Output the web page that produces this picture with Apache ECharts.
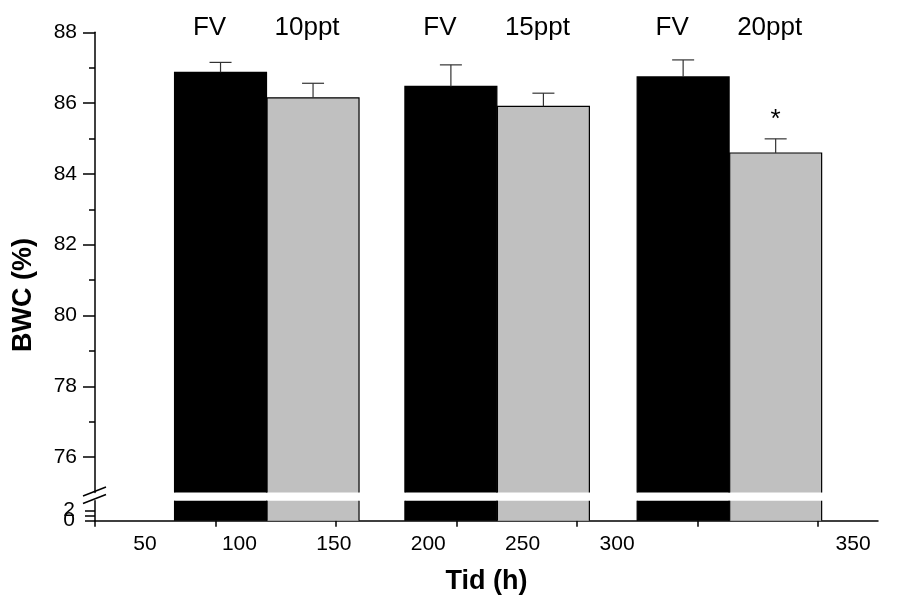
<!DOCTYPE html>
<html>
<head>
<meta charset="utf-8">
<script src="https://cdn.jsdelivr.net/npm/echarts@6/dist/echarts.min.js"></script>
<style>html,body{margin:0;padding:0;background:#fff}#c{width:898px;height:600px}</style>
</head>
<body>
<div id="c"></div>
<script>
// ---- data ----
const groups = ['10ppt', '15ppt', '20ppt'];
const controlLabel = 'FV';
const fvTime = [90, 212, 335];
const saltTime = [139, 261, 384];       // h
const fvBWC = [86.87, 86.47, 86.74];    // %
const fvSE = [0.28, 0.61, 0.48];
const saltBWC = [86.15, 85.91, 84.59];  // %
const saltSE = [0.41, 0.37, 0.40];
const significance = ['', '', '*'];
const xTickLabels = ['50', '100', '150', '200', '250', '300', '350'];
const yTickLabelsUpper = [76, 78, 80, 82, 84, 86, 88];
const yMinorUpper = [77, 79, 81, 83, 85, 87];
const yTickLabelsLower = [0, 2];
const yTicksLower = [0, 1, 2];

// ---- layout constants ----
const X_MIN = 23.52, X_MAX = 438.2;
const X_LABEL_AT = [50, 100, 150, 200, 250, 300, 425];
const BAR_W = 48.7;
const UP_MIN = 75, UP_MAX = 88, LO_MIN = 0, LO_MAX = 4;
const FONT = '"Liberation Sans", Arial, sans-serif';

function barRender(yMin, yMax, fill, labels, labOffset) {
  return function (params, api) {
    const x = api.value(0), v = api.value(1);
    const top = Math.min(v, yMax);
    const p1 = api.coord([x - BAR_W / 2, top]);
    const p2 = api.coord([x + BAR_W / 2, yMin]);
    const children = [{
      type: 'rect',
      shape: { x: p1[0], y: p1[1], width: p2[0] - p1[0], height: p2[1] - p1[1] },
      style: { fill: fill }
    }];
    const st = { stroke: '#000', lineWidth: 1.2, fill: null };
    if (v <= yMax) {
      children.push({ type: 'polyline', shape: { points: [[p1[0], p2[1]], [p1[0], p1[1]], [p2[0], p1[1]], [p2[0], p2[1]]] }, style: st });
    } else {
      children.push({ type: 'line', shape: { x1: p1[0], y1: p1[1], x2: p1[0], y2: p2[1] }, style: st });
      children.push({ type: 'line', shape: { x1: p2[0], y1: p1[1], x2: p2[0], y2: p2[1] }, style: st });
    }
    if (labels) {
      const c = api.coord([x, yMax]);
      children.push({
        type: 'text',
        x: c[0] + labOffset, y: c[1] - 4,
        style: { text: labels[params.dataIndex], font: '26px ' + FONT, fill: '#000', align: 'center', verticalAlign: 'middle' }
      });
    }
    return { type: 'group', children: children };
  };
}

function errRender(sigs) {
  return function (params, api) {
    const x = api.value(0), v = api.value(1), se = api.value(2);
    const b = api.coord([x, v]);
    const t = api.coord([x, v + se]);
    const st = { stroke: '#333', lineWidth: 1.2 };
    const ch = [
      { type: 'line', shape: { x1: b[0], y1: b[1], x2: t[0], y2: t[1] }, style: st },
      { type: 'line', shape: { x1: t[0] - 11, y1: t[1], x2: t[0] + 11, y2: t[1] }, style: st }
    ];
    const sig = sigs ? sigs[params.dataIndex] : '';
    if (sig) {
      ch.push({ type: 'text', x: t[0], y: t[1] - 19, style: { text: sig, font: '26px ' + FONT, fill: '#000', align: 'center', verticalAlign: 'middle' } });
    }
    return { type: 'group', children: ch };
  };
}

const fvData = fvTime.map((t, i) => [t, fvBWC[i], fvSE[i]]);
const saltData = saltTime.map((t, i) => [t, saltBWC[i], saltSE[i]]);
const fvLabels = fvTime.map(() => controlLabel);

const lowerLabel = (vals) => ({
  customValues: vals, margin: 20, color: '#000', fontSize: 21, fontFamily: FONT,
  hideOverlap: false, showMinLabel: true, showMaxLabel: true
});

const option = {
  backgroundColor: '#fff',
  animation: false,
  grid: [
    { left: 95, right: 20, top: 32.3, height: 460.2 },
    { left: 95, right: 20, top: 500.7, height: 20 }
  ],
  xAxis: [
    { gridIndex: 0, type: 'value', position: 'bottom', min: X_MIN, max: X_MAX, show: false },
    {
      gridIndex: 1, type: 'value', position: 'bottom', min: X_MIN, max: X_MAX,
      axisLine: { show: true, onZero: false, lineStyle: { color: '#000', width: 1.5 } },
      axisTick: { show: false }, splitLine: { show: false },
      axisLabel: {
        customValues: X_LABEL_AT, margin: 13, color: '#000', fontSize: 21, fontFamily: FONT, hideOverlap: false,
        formatter: function (val) { const i = X_LABEL_AT.indexOf(val); return i >= 0 ? xTickLabels[i] : ''; }
      },
      name: 'Tid (h)', nameLocation: 'middle', nameGap: 47,
      nameTextStyle: { color: '#000', fontSize: 27, fontWeight: 'bold', fontFamily: FONT }
    },
    {
      gridIndex: 1, type: 'value', position: 'bottom', offset: 0, min: 0, max: 6.5,
      axisLine: { show: false }, splitLine: { show: false }, axisLabel: { show: false },
      axisTick: { show: true, customValues: [0, 1, 2, 3, 4, 5, 6], length: 6, lineStyle: { color: '#000', width: 1.5 } }
    },
    {
      gridIndex: 1, type: 'value', position: 'bottom', offset: 0, min: 0, max: 6.5,
      axisLine: { show: false }, splitLine: { show: false }, axisLabel: { show: false },
      axisTick: { show: true, inside: true, customValues: [2, 4, 6], length: 6, lineStyle: { color: '#000', width: 1.5 } }
    }
  ],
  yAxis: [
    {
      gridIndex: 0, type: 'value', position: 'left', min: UP_MIN, max: UP_MAX,
      axisLine: { show: true, onZero: false, lineStyle: { color: '#000', width: 1.5 } },
      splitLine: { show: false },
      axisTick: { show: true, customValues: yTickLabelsUpper, length: 12, lineStyle: { color: '#000', width: 1.5 } },
      axisLabel: { customValues: yTickLabelsUpper, margin: 18, color: '#000', fontSize: 21, fontFamily: FONT, hideOverlap: false }
    },
    {
      gridIndex: 0, type: 'value', position: 'left', offset: 0, min: UP_MIN, max: UP_MAX,
      axisLine: { show: false }, splitLine: { show: false }, axisLabel: { show: false },
      axisTick: { show: true, customValues: yMinorUpper, length: 6, lineStyle: { color: '#000', width: 1.5 } }
    },
    {
      gridIndex: 1, type: 'value', position: 'left', min: LO_MIN, max: LO_MAX,
      axisLine: { show: true, onZero: false, lineStyle: { color: '#000', width: 1.5 } },
      splitLine: { show: false },
      axisTick: { show: true, customValues: yTicksLower, length: 10, lineStyle: { color: '#000', width: 1.5 } },
      axisLabel: lowerLabel(yTickLabelsLower.slice(0, 1))
    },
    {
      gridIndex: 1, type: 'value', position: 'left', offset: 0, min: LO_MIN, max: LO_MAX,
      axisLine: { show: false }, splitLine: { show: false }, axisTick: { show: false },
      axisLabel: lowerLabel(yTickLabelsLower.slice(1))
    }
  ],
  graphic: [
    { type: 'text', x: 24, y: 295, rotation: Math.PI / 2,
      style: { text: 'BWC (%)', font: 'bold 27px ' + FONT, fill: '#000', align: 'center', verticalAlign: 'middle' } },
    { type: 'line', shape: { x1: 83, y1: 496, x2: 106, y2: 487 }, style: { stroke: '#000', lineWidth: 1.5 } },
    { type: 'line', shape: { x1: 83, y1: 503.5, x2: 106, y2: 494.5 }, style: { stroke: '#000', lineWidth: 1.5 } }
  ],
  series: [
    { type: 'custom', xAxisIndex: 0, yAxisIndex: 0, data: fvData, renderItem: barRender(UP_MIN, UP_MAX, '#000', fvLabels, -11), z: 2 },
    { type: 'custom', xAxisIndex: 0, yAxisIndex: 0, data: saltData, renderItem: barRender(UP_MIN, UP_MAX, '#c0c0c0', groups, -6), z: 2 },
    { type: 'custom', xAxisIndex: 1, yAxisIndex: 2, data: fvData, renderItem: barRender(LO_MIN, LO_MAX, '#000', null, 0), z: 2 },
    { type: 'custom', xAxisIndex: 1, yAxisIndex: 2, data: saltData, renderItem: barRender(LO_MIN, LO_MAX, '#c0c0c0', null, 0), z: 2 },
    { type: 'custom', xAxisIndex: 0, yAxisIndex: 0, data: fvData, renderItem: errRender(null), z: 3 },
    { type: 'custom', xAxisIndex: 0, yAxisIndex: 0, data: saltData, renderItem: errRender(significance), z: 3 }
  ]
};

const chart = echarts.init(document.getElementById('c'), null, { renderer: 'canvas' });
chart.setOption(option);
</script>
</body>
</html>
